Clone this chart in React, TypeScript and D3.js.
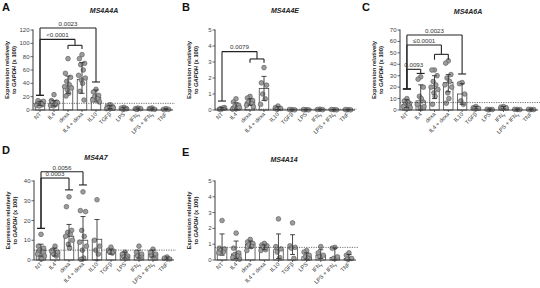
import React from "react";
import * as d3 from "d3";

const categories = ["NT", "IL4", "dexa", "IL4 + dexa", "IL10", "TGFβ", "LPS", "IFNγ", "LPS + IFNγ", "TNF"];

// Panel A: MS4A4A
const aMean = [10, 10, 36, 46, 19, 4, 2, 2, 2, 1.5];
const aHi = [13, 14, 51, 71, 30, 6.5, 3.5, 3, 3, 2];
const aLo = [7, 6, 25, 25, 12, 2, 1, 1, 1, 1];
const aPts = [
  [12, 10, 8, 9, 11, 7, 13, 6, 10, 14, 9],
  [23, 14, 12, 10, 8, 7, 11, 6, 9, 13],
  [77, 55, 49, 43, 38, 35, 33, 30, 25, 21],
  [83, 77, 70, 68, 60, 52, 48, 45, 40, 28, 15],
  [31, 27, 22, 20, 17, 15, 12],
  [8, 6, 5, 4, 3, 2, 3],
  [4, 3, 2, 1, 2],
  [3, 2, 2, 1],
  [3, 2, 1, 2],
  [2, 1, 1],
];
const aTicks = [0, 20, 40, 60, 80, 100, 120];
const aCut = 10;

// Panel B: MS4A4E
const bMean = [0.1, 0.2, 0.5, 1.35, 0.1, 0.02, 0.02, 0.03, 0.02, 0.02];
const bHi = [0.15, 0.45, 0.7, 2.1, 0.2, 0.04, 0.04, 0.05, 0.04, 0.04];
const bLo = [0.05, 0.02, 0.3, 0.6, 0.03, 0.01, 0.01, 0.01, 0.01, 0.01];
const bPts = [
  [0.1, 0.05, 0.15, 0.08, 0.12],
  [0.7, 0.5, 0.3, 0.2, 0.1, 0.05, 0.15],
  [0.85, 0.75, 0.6, 0.5, 0.4, 0.3, 0.2],
  [2.65, 1.7, 1.55, 1.0, 0.7, 0.35],
  [0.25, 0.15, 0.1, 0.05],
  [0.02, 0.03, 0.01],
  [0.02, 0.03, 0.01],
  [0.05, 0.03, 0.02],
  [0.02, 0.03, 0.01],
  [0.02, 0.03, 0.01],
];
const bTicks = [0, 1, 2, 3, 4, 5];
const bCut = 0.05;

// Panel C: MS4A6A
const cMean = [5, 8, 19, 24, 14, 2, 0.5, 2, 0.5, 0.5];
const cHi = [9, 22, 30, 31, 23, 3, 1, 3, 1, 1];
const cLo = [2, 0, 10, 16, 5, 1, 0.2, 1, 0.2, 0.2];
const cPts = [
  [10, 8, 6, 5, 4, 3, 2, 1, 7],
  [29, 27, 20, 12, 8, 5, 3, 2, 10],
  [35, 35, 30, 25, 22, 20, 18, 15, 12, 5],
  [43, 41, 31, 28, 25, 22, 20, 15, 10, 6],
  [24, 23, 14, 8, 5],
  [3, 2, 1.5, 1],
  [0.5, 0.6, 0.4],
  [3, 2.5, 2, 1.5],
  [0.5, 0.6, 0.4],
  [0.5, 0.6, 0.4],
];
const cTicks = [0, 10, 20, 30, 40, 50, 60, 70];
const cCut = 6.5;

// Panel D: MS4A7
const dMean = [5, 4, 12, 10, 10.5, 4, 2.5, 2.5, 3, 1];
const dHi = [8, 6, 18, 22, 20.5, 5.5, 4, 5, 5, 1.5];
const dLo = [2, 2, 7, 0, 0, 3, 1, 1, 1.5, 0.5];
const dPts = [
  [13, 7, 6, 5, 4, 3, 2, 1, 0.5],
  [7, 5, 4, 3, 2, 4.5],
  [32, 27, 15, 14, 13, 12, 10, 8, 6],
  [34.5, 25, 24.5, 15, 12, 9, 7, 5, 1, 0.3],
  [30.5, 10, 7, 5, 3],
  [6.5, 5, 4.5, 4, 3.5],
  [4, 3, 2, 1.5, 1],
  [7, 4, 3, 2, 1],
  [5.5, 4, 3, 2, 1],
  [1.5, 1, 0.5],
];
const dTicks = [0, 10, 20, 30, 40];
const dCut = 5;

// Panel E: MS4A14
const eMean = [0.75, 0.38, 1.0, 0.8, 0.65, 0.75, 0.2, 0.3, 0.15, 0.1];
const eHi = [1.65, 1.2, 1.2, 0.95, 1.65, 1.6, 0.45, 0.65, 0.75, 0.35];
const eLo = [0.3, 0.1, 0.75, 0.65, 0.1, 0.35, 0.05, 0.1, 0, 0];
const ePts = [
  [2.5, 0.75, 0.7, 0.6, 0.5, 0.45],
  [1.7, 0.75, 0.45, 0.35, 0.25, 0.15, 0.05],
  [1.3, 1.15, 1.05, 0.95, 0.85, 0.6],
  [1.05, 0.95, 0.9, 0.85, 0.65, 0.6],
  [2.6, 0.85, 0.7, 0.5, 0.15],
  [2.35, 0.9, 0.8, 0.75, 0.1],
  [0.6, 0.5, 0.3, 0.2, 0.1],
  [0.85, 0.45, 0.3, 0.2],
  [0.8, 0.75, 0.2, 0.1],
  [0.45, 0.3, 0.1, 0.05],
];
const eTicks = [0, 1, 2, 3, 4, 5];
const eCut = 0.8;

type Bracket = { label: string; from: string; to: string | string[]; top: number; fromEnd: number; toEnd: number; groupTop?: number };
const aBrackets: Bracket[] = [
  { label: "0.0023", from: "NT", to: "IL10", top: 123, fromEnd: 22, toEnd: 42 },
  { label: "<0.0001", from: "NT", to: ["dexa", "IL4 + dexa"], top: 106, fromEnd: 22, toEnd: 91.5, groupTop: 97 },
];
const bBrackets: Bracket[] = [
  { label: "0.0079", from: "NT", to: ["dexa", "IL4 + dexa"], top: 3.65, fromEnd: 0.56, toEnd: 2.96, groupTop: 3.19 },
];
const cBrackets: Bracket[] = [
  { label: "0.0023", from: "NT", to: "IL10", top: 65.6, fromEnd: 18.4, toEnd: 31.5 },
  { label: "≤0.0001", from: "NT", to: ["dexa", "IL4 + dexa"], top: 56.9, fromEnd: 18.4, toEnd: 44, groupTop: 48.7 },
  { label: "0.0093", from: "NT", to: "IL4", top: 35.6, fromEnd: 18.4, toEnd: 32 },
];
const dBrackets: Bracket[] = [
  { label: "0.0056", from: "NT", to: "IL4 + dexa", top: 44.7, fromEnd: 16, toEnd: 38 },
  { label: "0.0003", from: "NT", to: "dexa", top: 41.5, fromEnd: 16, toEnd: 35.5 },
];
const eBrackets: Bracket[] = [];

const jitter = [0, -2.6, 2.6, -1.3, 1.3, -3.4, 3.4, -0.6, 0.6, -2, 2];

type PanelProps = {
  letter: string; title: string; letterX: number; letterY: number; titleX: number; titleY: number;
  axisX: number; xEnd: number; yTop: number; yBottom: number; max: number; ticks: number[];
  mean: number[]; hi: number[]; lo: number[]; pts: number[][]; cut: number; brackets: Bracket[];
};

const FONT = "'Liberation Sans', Arial, sans-serif";
const AX = "#3a3a3a";

function XLabel({ text }: { text: string }) {
  if (text.endsWith("γ")) {
    return (<>{text.slice(0, -1)}<tspan fontSize={4.2} dy={1.2}>γ</tspan></>);
  }
  return <>{text}</>;
}

function Panel(p: PanelProps) {
  const x = d3.scaleBand<string>().domain(categories).range([p.axisX, p.xEnd]);
  const y = d3.scaleLinear().domain([0, p.max]).range([p.yBottom, p.yTop]);
  const bw = x.bandwidth();
  const cx = (c: string) => (x(c) as number) + bw / 2;
  const barW = bw * 0.68;
  const capW = 5;
  const yMid = (p.yTop + p.yBottom) / 2;
  return (
    <g>
      <text x={p.letterX} y={p.letterY} fontFamily={FONT} fontWeight="bold" fontSize={11} fill="#111">{p.letter}</text>
      <text x={p.titleX} y={p.titleY} fontFamily={FONT} fontWeight="bold" fontStyle="italic" fontSize={7} fill="#222" textAnchor="middle">{p.title}</text>
      <text transform={`translate(${p.axisX - 24},${yMid}) rotate(-90)`} fontFamily={FONT} fontWeight="bold" fontSize={5.8} fill="#222" textAnchor="middle">Expression relatively</text>
      <text transform={`translate(${p.axisX - 17},${yMid}) rotate(-90)`} fontFamily={FONT} fontWeight="bold" fontSize={5.8} fill="#222" textAnchor="middle">
        to <tspan fontStyle="italic">GAPDH</tspan> (x 100)
      </text>
      {categories.map((c, i) => (
        <rect key={"b" + c} x={cx(c) - barW / 2} y={y(p.mean[i])} width={barW} height={p.yBottom - y(p.mean[i])} fill="#fff" stroke="#444" strokeWidth={0.8} />
      ))}
      {categories.map((c, i) =>
        p.pts[i].map((v, j) => (
          <circle key={"p" + c + j} cx={cx(c) + jitter[j % jitter.length]} cy={y(v)} r={2.35} fill="#9c9c9c" stroke="#555" strokeWidth={0.6} />
        ))
      )}
      {categories.map((c, i) => (
        <g key={"e" + c} stroke="#333" strokeWidth={0.9}>
          <line x1={cx(c)} x2={cx(c)} y1={y(p.lo[i])} y2={y(p.hi[i])} />
          <line x1={cx(c) - capW / 2} x2={cx(c) + capW / 2} y1={y(p.hi[i])} y2={y(p.hi[i])} />
          <line x1={cx(c) - capW / 2} x2={cx(c) + capW / 2} y1={y(p.lo[i])} y2={y(p.lo[i])} />
        </g>
      ))}
      <line x1={p.axisX} x2={p.xEnd + 2} y1={y(p.cut)} y2={y(p.cut)} stroke="#333" strokeWidth={0.7} strokeDasharray="1.2,1.2" />
      <line x1={p.axisX} x2={p.axisX} y1={p.yTop - 0.5} y2={p.yBottom} stroke={AX} strokeWidth={1} />
      <line x1={p.axisX} x2={p.xEnd} y1={p.yBottom} y2={p.yBottom} stroke={AX} strokeWidth={1} />
      {p.ticks.map((t) => (
        <g key={"t" + t}>
          <line x1={p.axisX - 2.5} x2={p.axisX} y1={y(t)} y2={y(t)} stroke={AX} strokeWidth={0.8} />
          <text x={p.axisX - 3.5} y={y(t) + 2} fontFamily={FONT} fontSize={6} fill="#444" textAnchor="end">{t}</text>
        </g>
      ))}
      {categories.map((c) => (
        <g key={"x" + c}>
          <line x1={cx(c)} x2={cx(c)} y1={p.yBottom} y2={p.yBottom + 2} stroke={AX} strokeWidth={0.8} />
          <text transform={`translate(${cx(c) + 1.5},${p.yBottom + 4.5}) rotate(-45)`} fontFamily={FONT} fontSize={5.6} fill="#333" textAnchor="end"><XLabel text={c} /></text>
        </g>
      ))}
      {p.brackets.map((b, k) => {
        const x1 = cx(b.from);
        const isGroup = Array.isArray(b.to);
        const g0 = isGroup ? cx((b.to as string[])[0]) : 0;
        const g1 = isGroup ? cx((b.to as string[])[1]) : 0;
        const x2 = isGroup ? (g0 + g1) / 2 : cx(b.to as string);
        const yt = y(b.top);
        const bcap = 8;
        return (
          <g key={"br" + k} stroke="#222" strokeWidth={1.1} fill="none">
            <line x1={x1} x2={x2} y1={yt} y2={yt} />
            <line x1={x1} x2={x1} y1={yt} y2={y(b.fromEnd)} />
            <line x1={x1 - bcap / 2} x2={x1 + bcap / 2} y1={y(b.fromEnd)} y2={y(b.fromEnd)} />
            {isGroup ? (
              <>
                <line x1={x2} x2={x2} y1={yt} y2={y(b.groupTop as number)} />
                <line x1={g0} x2={g1} y1={y(b.groupTop as number)} y2={y(b.groupTop as number)} />
                <line x1={g0} x2={g0} y1={y(b.groupTop as number)} y2={y(b.toEnd)} />
                <line x1={g1} x2={g1} y1={y(b.groupTop as number)} y2={y(b.toEnd)} />
              </>
            ) : (
              <>
                <line x1={x2} x2={x2} y1={yt} y2={y(b.toEnd)} />
                <line x1={x2 - bcap / 2} x2={x2 + bcap / 2} y1={y(b.toEnd)} y2={y(b.toEnd)} />
              </>
            )}
            <text x={(x1 + x2) / 2} y={yt - 2.2} stroke="none" fill="#333" fontFamily={FONT} fontSize={6.2} textAnchor="middle">{b.label}</text>
          </g>
        );
      })}
    </g>
  );
}

export default function App() {
  return (
    <svg width={540} height={288} style={{ position: "absolute", left: 0, top: 0, background: "#fff" }}>
      <rect width={540} height={288} fill="#fff" />
      <Panel letter="A" title="MS4A4A" letterX={2} letterY={11} titleX={104} titleY={13} axisX={33} xEnd={173} yTop={30} yBottom={110} max={120} ticks={aTicks} mean={aMean} hi={aHi} lo={aLo} pts={aPts} cut={aCut} brackets={aBrackets} />
      <Panel letter="B" title="MS4A4E" letterX={182} letterY={11} titleX={285} titleY={13} axisX={215} xEnd={355} yTop={30} yBottom={110} max={5} ticks={bTicks} mean={bMean} hi={bHi} lo={bLo} pts={bPts} cut={bCut} brackets={bBrackets} />
      <Panel letter="C" title="MS4A6A" letterX={362} letterY={11} titleX={468} titleY={14} axisX={400} xEnd={538} yTop={30} yBottom={110} max={70} ticks={cTicks} mean={cMean} hi={cHi} lo={cLo} pts={cPts} cut={cCut} brackets={cBrackets} />
      <Panel letter="D" title="MS4A7" letterX={2} letterY={154} titleX={96} titleY={160} axisX={34} xEnd={174} yTop={181} yBottom={260} max={40} ticks={dTicks} mean={dMean} hi={dHi} lo={dLo} pts={dPts} cut={dCut} brackets={dBrackets} />
      <Panel letter="E" title="MS4A14" letterX={182} letterY={156} titleX={284} titleY={162} axisX={215} xEnd={356} yTop={181} yBottom={260} max={5} ticks={eTicks} mean={eMean} hi={eHi} lo={eLo} pts={ePts} cut={eCut} brackets={eBrackets} />
    </svg>
  );
}
